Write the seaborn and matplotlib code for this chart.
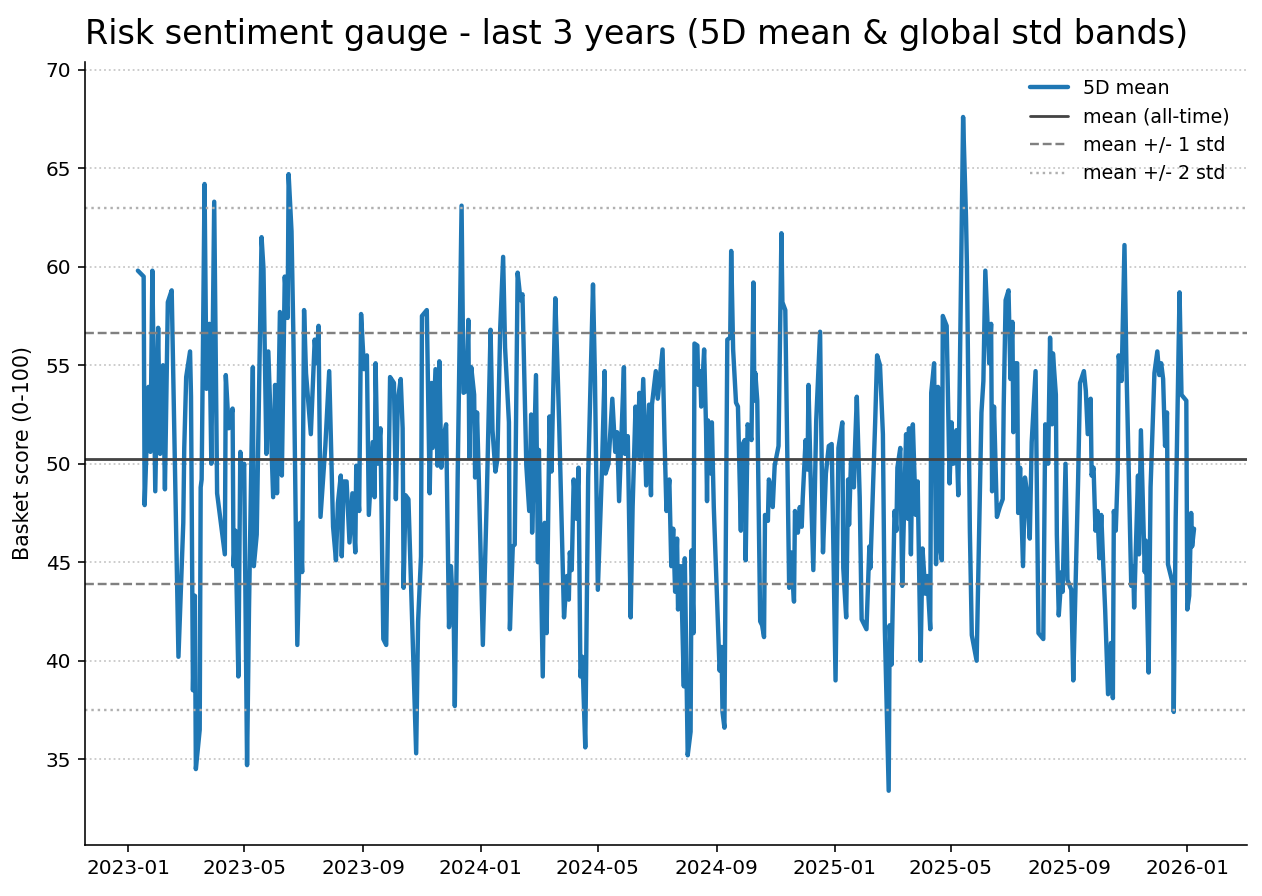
import pandas as pd
import seaborn as sns
import matplotlib.pyplot as plt
import matplotlib.dates as mdates

# days since 2023-01-01 and 5D mean of the basket score
obs_day = [
    10, 16, 17, 21, 23, 25, 28, 31, 33, 36, 38, 41, 45, 52, 57, 58, 60, 64, 65, 67,
    69, 70, 74, 75, 76, 79, 81, 84, 86, 89, 92, 100, 101, 104, 108, 109, 111, 114, 116, 118,
    120, 123, 125, 129, 130, 133, 138, 140, 143, 145, 150, 152, 154, 157, 159, 162, 165, 166, 169, 171,
    175, 178, 180, 182, 184, 189, 193, 195, 197, 199, 204, 208, 212, 215, 217, 220, 221, 223, 226, 229,
    232, 235, 236, 239, 241, 244, 247, 249, 253, 255, 256, 258, 261, 264, 267, 271, 275, 277, 279, 282,
    284, 285, 287, 290, 295, 298, 300, 303, 304, 309, 312, 314, 315, 318, 320, 322, 324, 326, 329, 332,
    334, 337, 338, 341, 345, 347, 350, 352, 353, 355, 358, 359, 361, 363, 367, 371, 375, 377, 380, 382,
    385, 388, 390, 394, 395, 398, 400, 403, 406, 408, 412, 415, 417, 418, 420, 422, 424, 425, 429, 431,
    433, 436, 438, 442, 444, 446, 451, 454, 456, 457, 459, 461, 464, 466, 468, 470, 473, 476, 481, 483,
    486, 490, 493, 494, 497, 501, 504, 506, 508, 513, 514, 517, 520, 522, 525, 527, 529, 530, 533, 536,
    539, 541, 542, 546, 548, 553, 555, 557, 560, 562, 564, 566, 568, 569, 572, 575, 576, 579, 582, 583,
    585, 586, 589, 590, 592, 593, 596, 598, 599, 600, 603, 604, 606, 612, 614, 615, 617, 620, 623, 624,
    626, 629, 631, 634, 635, 638, 639, 641, 645, 647, 648, 649, 651, 654, 656, 658, 659, 662, 663, 665,
    667, 669, 673, 676, 677, 680, 684, 686, 689, 690, 693, 695, 697, 698, 701, 703, 704, 706, 709, 712,
    716, 717, 719, 722, 725, 728, 732, 735, 739, 740, 743, 745, 746, 748, 751, 752, 754, 757, 759, 764,
    767, 768, 773, 775, 778, 781, 783, 787, 788, 790, 793, 795, 796, 799, 801, 803, 805, 807, 808, 810,
    812, 815, 817, 820, 822, 825, 827, 830, 831, 834, 836, 838, 840, 842, 843, 847, 850, 852, 854, 857,
    859, 864, 867, 868, 871, 873, 878, 883, 885, 887, 891, 893, 894, 896, 899, 902, 905, 906, 908, 911,
    913, 915, 916, 918, 920, 921, 923, 926, 928, 930, 933, 935, 939, 942, 947, 949, 952, 954, 956, 957,
    960, 961, 963, 966, 967, 970, 972, 976, 978, 983, 985, 989, 991, 993, 996, 997, 999, 1001, 1003, 1005,
    1007, 1009, 1011, 1014, 1017, 1019, 1020, 1022, 1024, 1025, 1028, 1031, 1033, 1038, 1040, 1041, 1045, 1046, 1048, 1052,
    1053, 1056, 1058, 1062, 1065, 1067, 1069, 1071, 1073, 1075, 1076, 1081, 1082, 1084, 1088, 1090, 1095, 1096, 1098, 1100,
    1101, 1103,
]
score_5d = [
    59.8, 59.5, 47.9, 53.9, 50.6, 59.8, 48.6, 56.9, 50.5, 55.0, 48.7, 58.2, 58.8, 40.2, 47.0, 50.8, 54.4, 55.7, 53.4, 38.5,
    43.3, 34.5, 36.5, 48.8, 49.2, 64.2, 53.8, 57.1, 50.0, 63.3, 48.5, 45.4, 54.5, 51.8, 52.8, 44.8, 46.6, 39.2, 50.6, 49.1,
    50.0, 34.7, 42.6, 54.9, 44.8, 46.4, 61.5, 59.9, 50.5, 55.7, 48.3, 54.0, 48.5, 57.7, 49.4, 59.5, 57.4, 64.7, 61.8, 56.3,
    40.8, 47.0, 44.5, 57.8, 54.6, 51.5, 56.3, 55.1, 57.0, 47.3, 50.9, 54.7, 46.8, 45.1, 48.0, 49.4, 45.3, 49.1, 49.1, 46.0,
    48.5, 45.5, 49.9, 47.6, 57.6, 54.8, 55.5, 47.4, 51.1, 48.3, 55.1, 50.0, 51.8, 41.1, 40.8, 54.4, 54.1, 48.2, 53.2, 54.3,
    51.8, 43.7, 48.4, 48.2, 40.2, 35.3, 42.0, 45.3, 57.5, 57.8, 48.5, 54.1, 50.8, 54.8, 49.9, 55.2, 49.8, 51.3, 52.0, 41.7,
    44.8, 41.7, 37.7, 49.5, 63.1, 53.6, 53.7, 57.3, 50.3, 54.9, 53.5, 49.3, 52.6, 48.9, 40.8, 48.1, 56.8, 51.7, 49.6, 50.2,
    56.9, 60.5, 55.9, 52.1, 41.6, 45.8, 45.9, 59.7, 58.3, 58.6, 49.9, 47.6, 52.5, 46.5, 50.5, 54.5, 45.0, 50.7, 39.2, 47.0,
    41.4, 52.4, 49.6, 58.4, 55.3, 52.0, 42.2, 44.3, 43.1, 45.5, 44.6, 49.2, 47.2, 49.8, 39.2, 40.2, 35.6, 49.3, 59.1, 54.4,
    43.6, 49.3, 54.7, 49.5, 50.0, 53.3, 50.6, 51.6, 48.1, 54.9, 50.5, 51.4, 42.2, 47.8, 52.9, 50.4, 53.6, 50.2, 54.3, 48.9,
    53.0, 48.4, 53.0, 54.7, 53.3, 55.8, 51.3, 47.6, 49.2, 44.8, 46.7, 43.5, 46.2, 42.6, 44.8, 38.7, 45.2, 35.2, 36.4, 45.6,
    41.4, 56.1, 56.0, 54.0, 54.7, 52.9, 55.8, 51.8, 48.1, 52.2, 49.5, 52.1, 47.8, 39.5, 40.7, 37.4, 36.6, 56.3, 56.4, 60.8,
    55.8, 53.1, 52.9, 46.6, 50.9, 51.2, 45.1, 52.0, 51.2, 59.2, 53.2, 54.6, 53.2, 42.0, 41.8, 41.2, 47.4, 47.1, 49.2, 48.8,
    47.8, 49.9, 50.9, 61.7, 58.2, 57.8, 43.7, 45.5, 43.0, 47.6, 46.5, 47.8, 46.8, 48.2, 51.2, 49.7, 54.0, 49.7, 44.6, 52.2,
    56.7, 52.5, 45.5, 49.5, 50.9, 51.0, 39.0, 50.8, 52.1, 44.7, 42.2, 49.2, 46.9, 50.2, 48.8, 50.6, 53.4, 48.3, 42.1, 41.6,
    45.8, 44.7, 52.1, 55.5, 55.0, 51.5, 41.6, 33.4, 41.8, 39.8, 47.6, 46.6, 49.8, 50.8, 43.8, 47.8, 51.5, 47.2, 51.8, 45.4,
    52.0, 47.4, 49.1, 40.0, 45.7, 43.4, 44.3, 41.6, 53.6, 55.1, 44.9, 53.9, 45.8, 45.1, 57.5, 57.0, 49.0, 52.1, 50.0, 51.7,
    48.4, 67.6, 62.5, 60.0, 46.6, 41.3, 40.0, 52.6, 54.2, 59.8, 55.1, 57.1, 48.6, 52.9, 47.3, 47.8, 48.2, 52.9, 58.3, 58.8,
    54.3, 57.2, 51.6, 55.1, 55.1, 47.5, 49.8, 44.8, 49.3, 48.6, 46.2, 51.1, 54.7, 41.4, 41.1, 52.0, 50.0, 56.4, 52.0, 55.6,
    53.5, 46.4, 42.3, 44.5, 43.5, 50.0, 44.1, 43.6, 39.0, 49.1, 54.1, 54.7, 53.7, 51.5, 53.3, 49.4, 49.8, 46.6, 47.6, 45.2,
    47.4, 44.9, 42.6, 38.3, 40.9, 38.1, 47.6, 46.6, 49.6, 55.5, 54.2, 61.1, 55.0, 43.8, 44.8, 42.7, 49.4, 45.4, 51.7, 44.5,
    46.1, 39.4, 48.8, 54.6, 55.7, 54.5, 55.1, 54.3, 50.9, 52.6, 44.9, 43.9, 37.4, 47.2, 58.7, 53.5, 53.2, 42.6, 43.3, 47.5,
    45.8, 46.7,
]

mean_all = 50.25
std_all = 6.37

y_ticks = [35, 40, 45, 50, 55, 60, 65, 70]

df = pd.DataFrame({
    "date": pd.Timestamp("2023-01-01") + pd.to_timedelta(obs_day, unit="D"),
    "score": score_5d,
})

sns.set_style("ticks", rc={
    "axes.edgecolor": "black",
    "axes.labelcolor": "black",
    "text.color": "black",
    "xtick.color": "black",
    "ytick.color": "black",
    "xtick.major.size": 3.5,
    "ytick.major.size": 3.5,
})
plt.rcParams["font.family"] = ["DejaVu Sans"]

fig, ax = plt.subplots(figsize=(1262 / 144, 896 / 144), dpi=144)
fig.subplots_adjust(left=0.0674, right=0.988, top=0.931, bottom=0.057)

sns.lineplot(data=df, x="date", y="score", ax=ax, color="#1f77b4",
             linewidth=2.2, estimator=None, sort=False, label="5D mean")

ax.axhline(mean_all, color="#444444", linewidth=1.4, label="mean (all-time)")
ax.axhline(mean_all + std_all, color="#808080", linestyle="--", linewidth=1.2,
           label="mean +/- 1 std")
ax.axhline(mean_all - std_all, color="#808080", linestyle="--", linewidth=1.2)
ax.axhline(mean_all + 2 * std_all, color="#b0b0b0", linestyle=":", linewidth=1.2,
           label="mean +/- 2 std")
ax.axhline(mean_all - 2 * std_all, color="#b0b0b0", linestyle=":", linewidth=1.2)

ax.set_ylim(30.65, 70.4)
ax.set_yticks(y_ticks)
ax.yaxis.grid(True, linestyle=":", color="#c8c8c8", linewidth=0.9)
ax.xaxis.grid(False)
ax.set_axisbelow(True)

ax.xaxis.set_major_locator(mdates.MonthLocator(bymonth=[1, 5, 9]))
ax.xaxis.set_major_formatter(mdates.DateFormatter("%Y-%m"))
ax.tick_params(labelsize=10)

ax.set_xlabel("")
ax.set_ylabel("Basket score (0-100)", fontsize=10.3, labelpad=6)
ax.set_title("Risk sentiment gauge - last 3 years (5D mean & global std bands)",
             loc="left", fontsize=16.7, pad=9)

ax.legend(loc="upper right", frameon=False, fontsize=9.5)
sns.despine(ax=ax)

fig.savefig("out.png", dpi=144)
